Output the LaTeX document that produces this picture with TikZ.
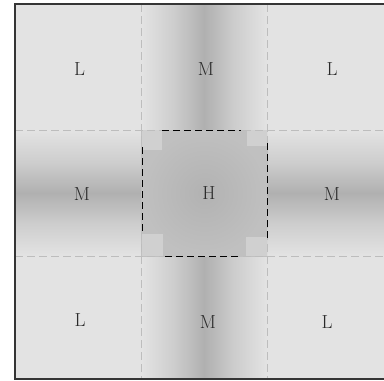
\documentclass[tikz,border=0pt]{standalone}
\usetikzlibrary{backgrounds}
\definecolor{bgc}{HTML}{E3E3E3}
\definecolor{midc}{HTML}{CDCDCD}
\definecolor{darkc}{HTML}{B0B0B0}
\definecolor{cenc}{HTML}{B2B2B2}
\definecolor{cenedge}{HTML}{C0C0C0}
\definecolor{notchc}{HTML}{D0D0D0}
\definecolor{gridc}{HTML}{BDBDBD}
\definecolor{framec}{HTML}{353535}
\definecolor{txtc}{HTML}{2A2A2A}
\pgfdeclarehorizontalshading{colband}{100bp}{color(0bp)=(bgc); color(25bp)=(bgc); color(38bp)=(midc); color(50bp)=(darkc); color(62bp)=(midc); color(75bp)=(bgc); color(100bp)=(bgc)}
\pgfdeclareverticalshading{rowband}{100bp}{color(0bp)=(bgc); color(25bp)=(bgc); color(38bp)=(midc); color(50bp)=(darkc); color(62bp)=(midc); color(75bp)=(bgc); color(100bp)=(bgc)}
\tikzset{
  gridline/.style={gridc, line width=0.9bp, dash pattern=on 8bp off 4bp},
  hotline/.style={black, line width=1bp, dash pattern=on 7bp off 4bp},
  lab/.style={text=txtc, font=\fontsize{19}{22}\selectfont, inner sep=0pt},
}
\begin{document}
\begin{tikzpicture}[x=1bp,y=-1bp]
\useasboundingbox (0,0) rectangle (384,381);
\begin{scope}
\clip (0,0) rectangle (384,381);
% background
\fill[bgc] (15,4) rectangle (396,379);
% middle column band
\shade[shading=colband] (141.5,4) rectangle (267,379);
% middle row band
\shade[shading=rowband] (15,130) rectangle (396,256);
% centre cell
\shade[inner color=cenc, outer color=cenedge] (141.5,130) rectangle (267,256);
% lighter corner notches
\fill[notchc] (141.5,130) rectangle (162,150);
\fill[notchc] (247,130) rectangle (267,146);
\fill[notchc] (141.5,234) rectangle (163,256);
\fill[notchc] (246,237) rectangle (267,256);
% grid
\draw[gridline] (141.5,4) -- (141.5,379);
\draw[gridline] (267,4) -- (267,379);
\draw[gridline] (15,130) -- (396,130);
\draw[gridline] (15,256) -- (396,256);
% centre dashed box
\draw[hotline] (162,130) -- (241,130);
\draw[hotline] (165,256) -- (242,256);
\draw[hotline] (142,147) -- (142,235);
\draw[hotline] (267,143) -- (267,239);
% frame
\draw[framec, line width=1.4bp] (15,4) rectangle (396,379);
\end{scope}
% labels
\node[lab] (l1) at (79.5,69) {L};
\node[lab] (m1) at (206,69) {M};
\node[lab] (l2) at (332,69) {L};
\node[lab] (m2) at (82,194) {M};
\node[lab] (h) at (209,193) {H};
\node[lab] (m3) at (332,194) {M};
\node[lab] (l3) at (80,320.5) {L};
\node[lab] (m4) at (208,322) {M};
\node[lab] (l4) at (327,322) {L};
\end{tikzpicture}
\end{document}
